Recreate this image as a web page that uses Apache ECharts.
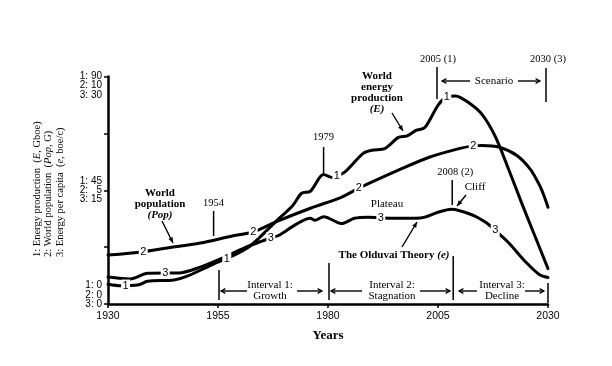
<!DOCTYPE html>
<html><head><meta charset="utf-8">
<script src="https://cdn.jsdelivr.net/npm/echarts@6/dist/echarts.min.js"></script>
<style>html,body{margin:0;padding:0;background:#fff}#c{width:612px;height:366px}</style>
</head><body><div id="c"></div>
<script>
// ---- data ----
const energyYears  = [1930,1933,1934,1937,1939,1945,1948,1954,1957,1962,1968,1972,1974,1976,1979,1981,1982,1984,1988,1990,1993,1996,1998,2000,2002,2005,2007,2009,2012,2015,2018,2021,2024,2027,2030];
const energyValues = [7.8,7.2,7.3,7.6,9.0,9.5,11.0,15.8,18.0,22.5,32.4,39.0,43.8,44.6,51.2,50.0,50.5,52.5,59.6,60.8,61.6,65.9,66.5,68.7,69.8,78.6,82.0,82.3,79.6,75.0,66.3,53.5,40.0,27.0,14.0];
const energyLabelYears = [1934,1957,1982,2007];

const popYears  = [1930,1938,1943,1951,1958,1963,1968,1976,1983,1987,1996,2003,2010,2013,2015,2019,2023,2026,2028,2029,2030];
const popValues = [2.15,2.3,2.45,2.68,2.98,3.17,3.6,4.21,4.69,5.09,5.88,6.45,6.84,6.95,6.97,6.89,6.52,5.92,5.25,4.8,4.25];
const popLabelYears = [1938,1963,1987,2013];

const capitaYears  = [1930,1935,1939,1943,1946,1951,1956,1961,1965,1967,1969,1973,1976,1977,1979,1982,1983,1986,1989,1992,1996,2000,2002,2005,2008,2013,2016,2018,2021,2025,2028,2030];
const capitaValues = [3.55,3.3,4.05,4.1,4.08,4.87,6.05,7.4,8.3,8.7,9.1,10.6,11.3,11.05,11.5,10.8,10.6,11.3,11.45,11.35,11.3,11.3,11.45,12.1,12.5,11.7,10.7,9.7,8.1,5.5,3.9,3.5];
const capitaLabelYears = [1943,1967,1992,2018];

const xTicks = [1930,1955,1980,2005,2030];
const energyTicks = [0,45,90];
const popTicks = [0,5,10];
const capitaTicks = [0,15,30];

// ---- chart ----
const SERIF = '"Liberation Serif","DejaVu Serif",serif';
const SANS = '"Liberation Sans",Arial,sans-serif';
const chart = echarts.init(document.getElementById('c'));

function pairs(xs, ys){ return xs.map((x,i)=>[x, ys[i]]); }
function marks(xs, ys, lbls, txt){
  return lbls.map(l => { const i = xs.indexOf(l); return {coord:[xs[i], ys[i]], value: txt}; });
}
function lineSeries(name, xs, ys, axis, lbls, txt){
  return {
    name, type:'line', yAxisIndex: axis, data: pairs(xs, ys),
    showSymbol:false, smooth:0.3,
    lineStyle:{color:'#000', width:3, cap:'round', join:'round'},
    silent:true, z:2,
    markPoint:{
      symbol:'rect', symbolSize:[9,12], silent:true,
      itemStyle:{color:'#fff'},
      label:{show:true, formatter: txt, color:'#000', fontSize:11, fontFamily:SANS, position:'inside'},
      data: marks(xs, ys, lbls, txt)
    }
  };
}
function yLabel(v){
  const i = energyTicks.indexOf(v);
  if (i < 0) return '';
  const vals = [String(energyTicks[i]), String(popTicks[i]), String(capitaTicks[i])];
  const w = Math.max(...vals.map(s=>s.length));
  const lines = vals.map((s,k)=> (k+1)+': '+'\u2007'.repeat(w - s.length)+s);
  if (i === 0) return lines.join('\n') + '\n\n';
  if (i === energyTicks.length-1) return '\n\n' + lines.join('\n');
  return lines.join('\n');
}
const hiddenY = (max)=>({type:'value', min:0, max, show:false});

chart.setOption({
  animation:false,
  backgroundColor:'#fff',
  grid:{left:108, right:64, top:76.5, bottom:62},
  xAxis:{
    type:'value', min:xTicks[0], max:xTicks[xTicks.length-1], interval:25,
    name:'Years', nameLocation:'middle', nameGap:25,
    nameTextStyle:{fontFamily:SERIF, fontWeight:'bold', fontSize:13, color:'#000'},
    axisLine:{lineStyle:{color:'#000', width:2.5}},
    axisTick:{show:true, inside:false, length:4, lineStyle:{color:'#000', width:1.5}},
    axisLabel:{color:'#000', fontFamily:SANS, fontSize:10.5, margin:7, formatter: v=>String(v)},
    splitLine:{show:false}
  },
  yAxis:[
    {type:'value', min:0, max:energyTicks[energyTicks.length-1], interval:22.5,
     axisLine:{show:true, lineStyle:{color:'#000', width:2.5}},
     axisTick:{show:true, inside:false, length:4, lineStyle:{color:'#000', width:1.5}},
     axisLabel:{color:'#000', fontFamily:SANS, fontSize:10, lineHeight:9.2, margin:6, formatter:yLabel},
     splitLine:{show:false}},
    hiddenY(popTicks[popTicks.length-1]),
    hiddenY(capitaTicks[capitaTicks.length-1])
  ],
  series:[
    lineSeries('Energy production', energyYears, energyValues, 0, energyLabelYears, '1'),
    lineSeries('World population', popYears, popValues, 1, popLabelYears, '2'),
    lineSeries('Energy per capita', capitaYears, capitaValues, 2, capitaLabelYears, '3')
  ]
});

// ---- annotations ----
const X = yr => chart.convertToPixel({xAxisIndex:0, yAxisIndex:0}, [yr, 0])[0];
const G = [];
function vline(x, y1, y2, w){ G.push({type:'line', silent:true, z:5, shape:{x1:x,y1:y1,x2:x,y2:y2}, style:{stroke:'#000', lineWidth:w||1.5}}); }
function txt(t, x, y, opt){
  opt = opt || {};
  G.push({type:'text', silent:true, z:6, x, y, rotation:opt.rot||0, style:Object.assign({
    text:t, fill:'#000', font:(opt.bold?'bold ':'')+(opt.size||11)+'px '+(opt.family||SERIF),
    textAlign:opt.align||'center', textVerticalAlign:opt.va||'middle',
    align:opt.align||'center', verticalAlign:opt.va||'middle',
    lineHeight:opt.lh||11
  }, opt.rich?{rich:opt.rich}:{})});
}
function arrow(x1,y1,x2,y2,filled){
  G.push({type:'line', silent:true, z:5, shape:{x1,y1,x2,y2}, style:{stroke:'#000', lineWidth:1.4}});
  const a = Math.atan2(y2-y1, x2-x1), L = filled?6:5, s = filled?0.4:0.5;
  const p1 = [x2 - L*Math.cos(a-s), y2 - L*Math.sin(a-s)];
  const p2 = [x2 - L*Math.cos(a+s), y2 - L*Math.sin(a+s)];
  if (filled) G.push({type:'polygon', silent:true, z:5, shape:{points:[p1,[x2,y2],p2]}, style:{fill:'#000'}});
  else G.push({type:'polyline', silent:true, z:5, shape:{points:[p1,[x2,y2],p2]}, style:{stroke:'#000', lineWidth:1.2, fill:null}});
}

// year markers
vline(X(1954), 211, 236); txt('1954', X(1954), 203, {size:10.5});
vline(X(1979), 147, 173); txt('1979', X(1979), 137, {size:10.5});
vline(X(2005)-1, 67, 99);  txt('2005 (1)', X(2005), 59, {size:10.5});
vline(X(2030)-2, 68, 102); txt('2030 (3)', X(2030), 59, {size:10.5});
vline(X(2008)+1, 180, 205); txt('2008 (2)', X(2008)+4, 172, {size:10.5});
// scenario
txt('Scenario', 494, 81, {size:11});
arrow(470, 81, 442, 81, false);
arrow(518, 81, 540, 81, false);
// cliff / plateau
txt('Cliff', 475, 187, {size:11});
arrow(466, 195, 457, 206, true);
txt('Plateau', 387, 204, {size:11});
// bold labels
txt('{b|World}\n{b|population}\n{bi|(Pop)}', 160, 204, {lh:11, rich:{
  b:{font:'bold 11px '+SERIF, fill:'#000', lineHeight:11},
  bi:{font:'italic bold 11px '+SERIF, fill:'#000', lineHeight:11}}});
arrow(162, 221, 173, 243, true);
txt('{b|World}\n{b|energy}\n{b|production}\n{bi|(E)}', 377, 92.5, {lh:11, rich:{
  b:{font:'bold 11px '+SERIF, fill:'#000', lineHeight:11},
  bi:{font:'italic bold 11px '+SERIF, fill:'#000', lineHeight:11}}});
arrow(392, 113, 403, 131, true);
txt('{b|The Olduvai Theory }{bi|(e)}', 394, 255, {rich:{
  b:{font:'bold 11px '+SERIF, fill:'#000'},
  bi:{font:'italic bold 11px '+SERIF, fill:'#000'}}});
arrow(402, 247, 417, 222, true);

// intervals
vline(X(1955)+1, 270, 300);
vline(X(1980)+1, 263, 300);
vline(X(2008)+2, 256, 300);
vline(X(2030), 283, 303);
txt('Interval 1:\nGrowth', 270, 291, {size:11, lh:11});
arrow(247, 291, 221, 291, false); arrow(297, 291, 322, 291, false);
txt('Interval 2:\nStagnation', 392, 291, {size:11, lh:11});
arrow(362, 291, 331, 291, false); arrow(420, 291, 450, 291, false);
txt('Interval 3:\nDecline', 502, 291, {size:11, lh:11});
arrow(477, 291, 459, 291, false); arrow(525, 291, 544, 291, false);

// rotated y-axis title
txt('{r|1: Energy production  (}{i|E}{r|, Gboe)}\n{r|2: World population  (}{i|Pop}{r|, G)}\n{r|3: Energy per capita  (}{i|e}{r|, boe/c)}',
  31, 257, {rot:Math.PI/2, align:'left', va:'top', lh:11.5, rich:{
    r:{font:'10.5px '+SERIF, fill:'#000', lineHeight:11.5},
    i:{font:'italic 10.5px '+SERIF, fill:'#000', lineHeight:11.5}}});

chart.setOption({graphic:{elements:G}});
</script></body></html>
